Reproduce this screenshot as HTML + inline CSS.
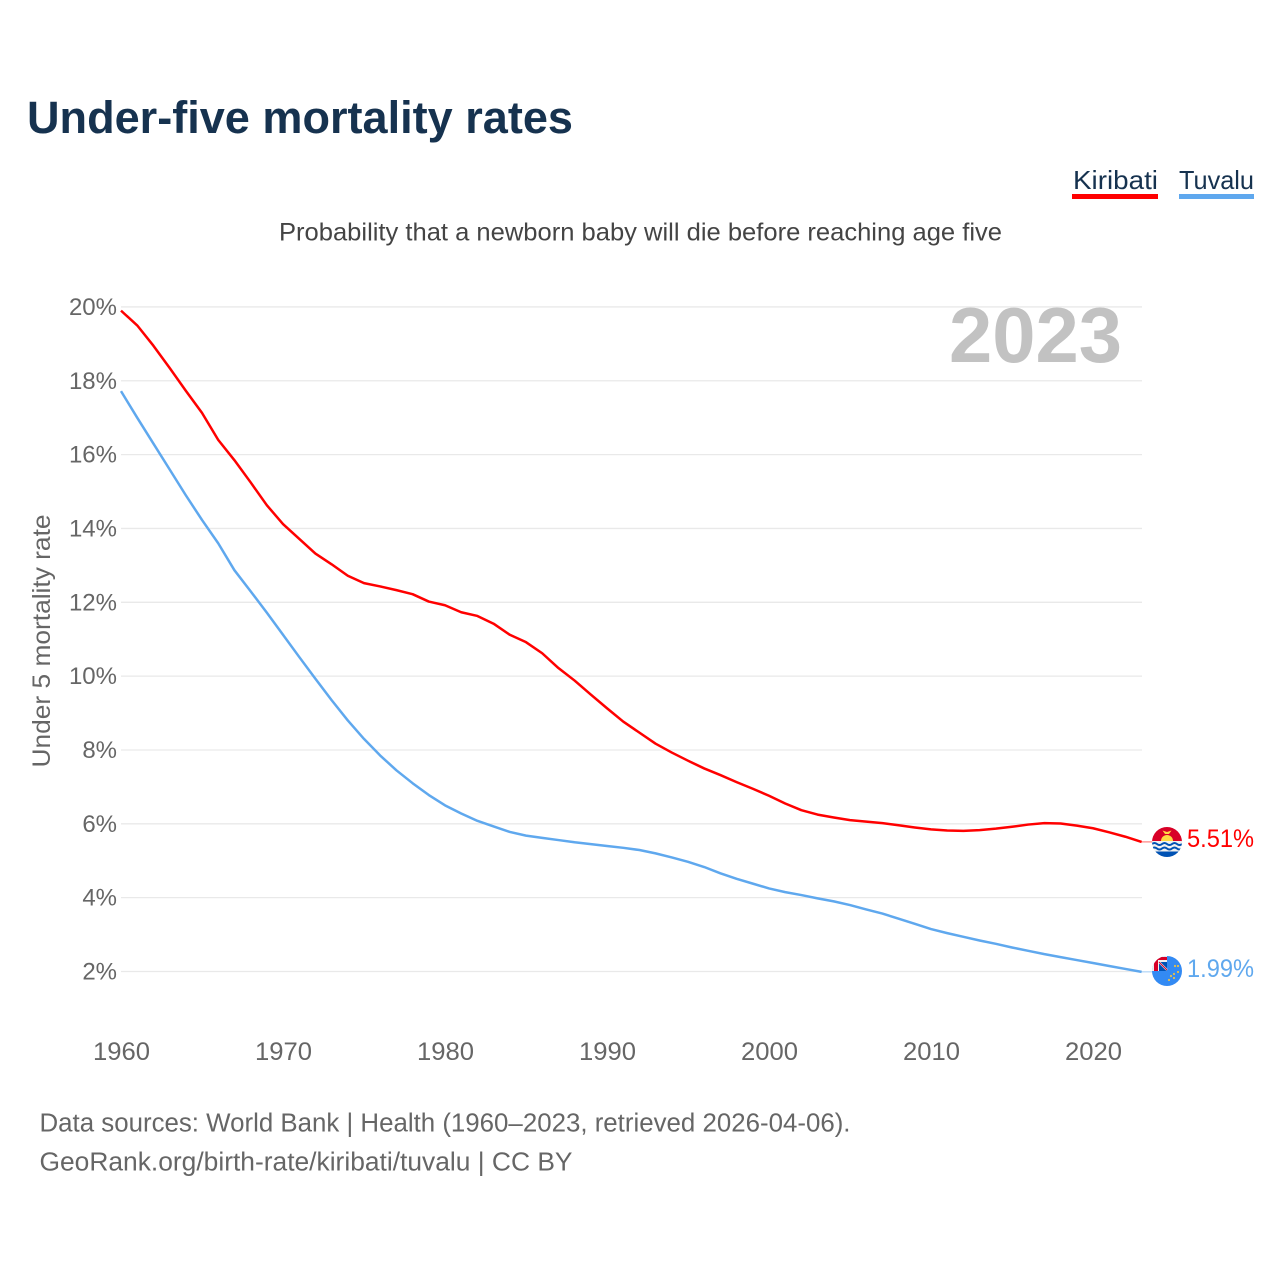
<!DOCTYPE html>
<html lang="en">
<head>
<meta charset="utf-8">
<title>Under-five mortality rates</title>
<style>
html,body{margin:0;padding:0;background:#fff;}
svg{display:block;font-family:"Liberation Sans",sans-serif;}
</style>
</head>
<body>
<svg id="chart" width="1280" height="1280" viewBox="0 0 1280 1280" xmlns="http://www.w3.org/2000/svg">
<rect width="1280" height="1280" fill="#ffffff"/>
<text x="27" y="133" font-size="45" font-weight="700" fill="#16324f" textLength="546" lengthAdjust="spacingAndGlyphs">Under-five mortality rates</text>
<g>
<text x="1073" y="189" font-size="26" fill="#16324f" textLength="85" lengthAdjust="spacingAndGlyphs">Kiribati</text>
<rect x="1072" y="194" width="86" height="5" fill="#ff0000"/>
</g>
<g>
<text x="1179" y="189" font-size="26" fill="#16324f" textLength="75" lengthAdjust="spacingAndGlyphs">Tuvalu</text>
<rect x="1179" y="194" width="75" height="5" fill="#5fa8ee"/>
</g>
<text x="279" y="240.5" font-size="25" fill="#444444" textLength="723" lengthAdjust="spacingAndGlyphs">Probability that a newborn baby will die before reaching age five</text>
<text transform="translate(50,641) rotate(-90)" text-anchor="middle" font-size="25" fill="#666666" textLength="253" lengthAdjust="spacingAndGlyphs">Under 5 mortality rate</text>
<g id="grid"></g>
<g id="yticks"></g>
<g id="xticks"></g>
<text x="949" y="362" font-size="78" font-weight="700" fill="#c2c2c2" textLength="173" lengthAdjust="spacingAndGlyphs">2023</text>
<g id="series"></g>
<g>
<clipPath id="kc"><circle cx="1167" cy="842" r="15"/></clipPath>
<g clip-path="url(#kc)">
<rect x="1152" y="827" width="30" height="15" fill="#d80027"/>
<rect x="1152" y="841" width="30" height="16" fill="#f0f0f0"/>
<path d="M1161 841 a6 6 0 0 1 12 0z" fill="#ffda44"/>
<path d="M1162.5 830.5 l4.5 1.5 4.5 -1.5 -2.5 3.5 h-4z" fill="#ffda44"/>
<path d="M1152 844 q2.5 -2 5 0 t5 0 t5 0 t5 0 t5 0 t5 0" fill="none" stroke="#0052b4" stroke-width="2"/>
<path d="M1152 848.5 q2.5 -2 5 0 t5 0 t5 0 t5 0 t5 0 t5 0" fill="none" stroke="#0052b4" stroke-width="2"/>
<rect x="1152" y="851.5" width="30" height="6" fill="#0052b4"/>
</g>
</g>
<g>
<clipPath id="tc"><circle cx="1167" cy="971" r="15"/></clipPath>
<g clip-path="url(#tc)">
<rect x="1152" y="956" width="30" height="30" fill="#338af3"/>
<rect x="1152" y="956" width="15" height="15" fill="#f0f0f0"/>
<rect x="1152" y="957" width="15" height="3" fill="#d80027"/>
<rect x="1154" y="957" width="4" height="14" fill="#d80027"/>
<rect x="1159" y="962" width="8" height="9" fill="#0052b4"/>
<path d="M1159 962 l8 8" stroke="#f0f0f0" stroke-width="2"/>
<path d="M1159 962 l8 8" stroke="#d80027" stroke-width="1"/>
<g fill="#e8c04a">
<circle cx="1175" cy="966" r="1.1"/><circle cx="1178" cy="966" r="1.1"/><circle cx="1178" cy="972" r="1.1"/>
<circle cx="1174" cy="974" r="1.1"/><circle cx="1171" cy="976" r="1.1"/><circle cx="1174" cy="978" r="1.1"/><circle cx="1169" cy="980" r="1.1"/>
</g>
</g>
</g>
<text x="1187" y="847" font-size="25" fill="#ff0000" textLength="67" lengthAdjust="spacingAndGlyphs">5.51%</text>
<text x="1187" y="977" font-size="25" fill="#5fa8ee" textLength="67" lengthAdjust="spacingAndGlyphs">1.99%</text>
<text x="39.5" y="1131.5" font-size="25.5" fill="#666666" textLength="811" lengthAdjust="spacingAndGlyphs">Data sources: World Bank | Health (1960–2023, retrieved 2026-04-06).</text>
<text x="39.5" y="1170.5" font-size="25.5" fill="#666666" textLength="533" lengthAdjust="spacingAndGlyphs">GeoRank.org/birth-rate/kiribati/tuvalu | CC BY</text>
</svg>
<script>
const startYear = 1960;
const yTickValues = [2, 4, 6, 8, 10, 12, 14, 16, 18, 20];
const xTickValues = [1960, 1970, 1980, 1990, 2000, 2010, 2020];
const kiribatiValues = [19.9,19.5,18.95,18.35,17.73,17.13,16.4,15.85,15.25,14.63,14.12,13.72,13.32,13.03,12.72,12.52,12.43,12.33,12.22,12.02,11.92,11.73,11.63,11.42,11.12,10.92,10.62,10.22,9.88,9.5,9.13,8.77,8.47,8.17,7.93,7.71,7.5,7.32,7.13,6.95,6.76,6.55,6.37,6.25,6.17,6.1,6.06,6.02,5.96,5.9,5.85,5.82,5.81,5.83,5.87,5.92,5.98,6.02,6.01,5.95,5.88,5.77,5.65,5.51];
const tuvaluValues = [17.72,17.0,16.3,15.6,14.9,14.23,13.6,12.87,12.3,11.72,11.12,10.52,9.93,9.35,8.8,8.3,7.85,7.45,7.1,6.78,6.5,6.28,6.08,5.93,5.78,5.68,5.62,5.56,5.5,5.45,5.4,5.35,5.29,5.2,5.09,4.97,4.83,4.66,4.51,4.38,4.25,4.15,4.07,3.98,3.9,3.8,3.68,3.57,3.43,3.29,3.15,3.04,2.94,2.84,2.75,2.65,2.56,2.47,2.39,2.31,2.23,2.15,2.07,1.99];

const NS = 'http://www.w3.org/2000/svg';
function xScale(year) { return 121 + (year - 1960) * 16.2; }
function yScale(v) { return 971.5 - (v - 2) * 36.92; }
function make(tag, parent, attrs, text) {
  const el = document.createElementNS(NS, tag);
  for (const k in attrs) el.setAttribute(k, attrs[k]);
  if (text !== undefined) el.textContent = text;
  parent.appendChild(el);
  return el;
}
const grid = document.getElementById('grid');
const yticks = document.getElementById('yticks');
const xticks = document.getElementById('xticks');
const series = document.getElementById('series');

yTickValues.forEach(function (v) {
  const line = make('line', grid, {x1: 121, x2: 1142, y1: yScale(v), y2: yScale(v), stroke: '#e9e9e9', 'stroke-width': 1.3});
  
  
  const label = make('text', yticks, {x: 117, y: yScale(v) + 8, 'text-anchor': 'end', 'font-size': 24, fill: '#666666'}, v + '%');
  
  
});
xTickValues.forEach(function (year) {
  const label = make('text', xticks, {x: xScale(year) + 0.5, y: 1060, 'text-anchor': 'middle', 'font-size': 25, fill: '#666666', textLength: 57, lengthAdjust: 'spacingAndGlyphs'}, String(year));
  
  
});
function pathFor(values) {
  return values.map(function (v, i) {
    return (i ? 'L' : 'M') + xScale(startYear + i).toFixed(2) + ' ' + yScale(v).toFixed(2);
  }).join(' ');
}
function connector(values) {
  const last = values[values.length - 1];
  const lastYear = startYear + values.length - 1;
  return 'M' + xScale(lastYear) + ' ' + yScale(last) + ' H1152';
}
const redLine = make('path', series, {d: pathFor(kiribatiValues), fill: 'none', stroke: '#ff0000', 'stroke-width': 2.5, 'stroke-linejoin': 'round'});


const blueLine = make('path', series, {d: pathFor(tuvaluValues), fill: 'none', stroke: '#5fa8ee', 'stroke-width': 2.5, 'stroke-linejoin': 'round'});


const redLead = make('path', series, {d: connector(kiribatiValues), fill: 'none', stroke: '#ff0000', 'stroke-width': 1, opacity: 0.6});


const blueLead = make('path', series, {d: connector(tuvaluValues), fill: 'none', stroke: '#5fa8ee', 'stroke-width': 1, opacity: 0.6});


</script>
</body>
</html>
